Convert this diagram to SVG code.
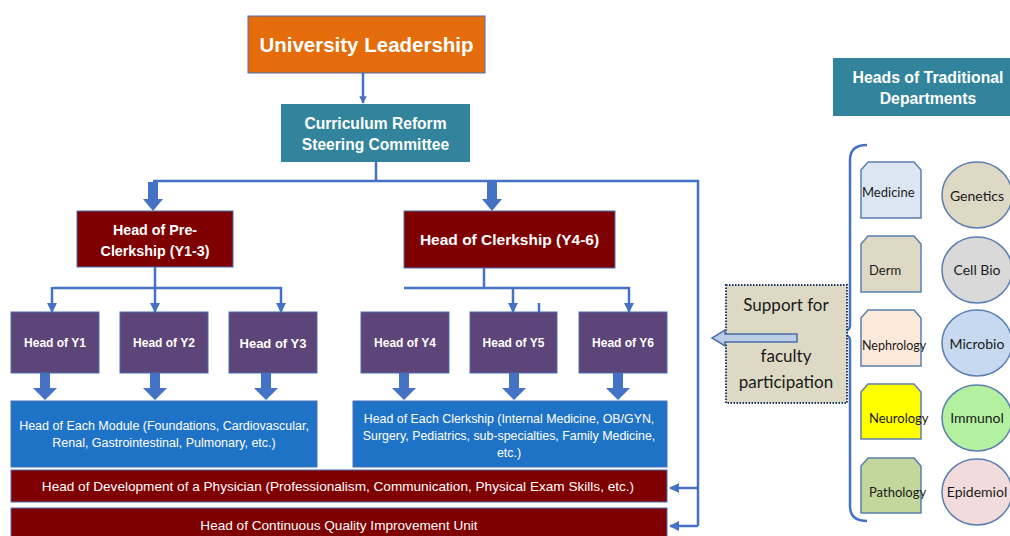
<svg xmlns="http://www.w3.org/2000/svg" width="1010" height="536" viewBox="0 0 1010 536">
<defs>
<style>
.t{font-family:"Liberation Sans",Arial,sans-serif;fill:#fff;text-anchor:middle}
.b{font-weight:bold}
.c{font-family:Lato,"Open Sans",sans-serif;fill:#1a1a1a}
.ln{fill:none;stroke:#4472C4;stroke-width:2.5}
.ba{fill:#4472C4}
.yr{fill:#5D4479;stroke:#4A6FB5;stroke-width:1}
.mr{fill:#7F0000;stroke:#4A6FB5;stroke-width:1}
.bl{fill:#1F73C6;stroke:#4A6FB5;stroke-width:1}
.dp{stroke:#5B7FB0;stroke-width:1.5}
</style>
<marker id="ah" viewBox="0 0 10 10" refX="9" refY="5" markerWidth="4" markerHeight="4" orient="auto-start-reverse" markerUnits="strokeWidth">
<path d="M0,0 L10,5 L0,10 z" fill="#4472C4"/>
</marker>
<marker id="ah2" viewBox="0 0 10 10" refX="9" refY="5" markerWidth="3" markerHeight="3" orient="auto" markerUnits="strokeWidth">
<path d="M0,0 L10,5 L0,10 z" fill="#4472C4"/>
</marker>
</defs>
<rect width="1010" height="536" fill="#fff"/>

<g id="connectors">
<line class="ln" x1="363" y1="73" x2="363" y2="103" marker-end="url(#ah2)"/>
<polyline class="ln" points="376,162 376,181"/>
<polyline class="ln" points="153,181 698,181 698,526"/>
<line class="ln" x1="698" y1="488" x2="670" y2="488" marker-end="url(#ah)"/>
<line class="ln" x1="698" y1="526" x2="670" y2="526" marker-end="url(#ah)"/>
<polygon class="ba" points="148,182 158,182 158,199 163,199 153,211 143,199 148,199"/>
<polygon class="ba" points="487,182 497,182 497,199 502,199 492,211 482,199 487,199"/>
<polyline class="ln" points="155,267 155,288"/>
<polyline class="ln" points="53,288 281,288"/>
<line class="ln" x1="52" y1="287" x2="52" y2="312" marker-end="url(#ah)"/>
<line class="ln" x1="155" y1="287" x2="155" y2="312" marker-end="url(#ah)"/>
<line class="ln" x1="281" y1="287" x2="281" y2="312" marker-end="url(#ah)"/>
<polyline class="ln" points="484,268 484,288"/>
<polyline class="ln" points="404,288 630,288"/>
<line class="ln" x1="513" y1="287" x2="513" y2="312" marker-end="url(#ah)"/>
<line class="ln" x1="629" y1="287" x2="629" y2="312" marker-end="url(#ah)"/>
<line class="ln" x1="539" y1="303" x2="539" y2="323"/>
<polygon class="ba" points="40,373 50,373 50,388 57,388 45,400 33,388 40,388"/>
<polygon class="ba" points="150,373 160,373 160,388 167,388 155,400 143,388 150,388"/>
<polygon class="ba" points="261,373 271,373 271,388 278,388 266,400 254,388 261,388"/>
<polygon class="ba" points="399,373 409,373 409,388 416,388 404,400 392,388 399,388"/>
<polygon class="ba" points="509,373 519,373 519,388 526,388 514,400 502,388 509,388"/>
<polygon class="ba" points="613,373 623,373 623,388 630,388 618,400 606,388 613,388"/>
<path d="M867,145 Q850,145 850,160 L850,326 Q850,333 831,333 Q850,333 850,340 L850,506 Q850,521 867,521" fill="none" stroke="#4472C4" stroke-width="2.5"/>
</g>

<g id="university-leadership">
<rect x="248" y="16" width="237" height="57" fill="#E46C0A" stroke="#4A6FB5" stroke-width="1"/>
<text class="t b" x="366.5" y="52" font-size="20.5">University Leadership</text>
</g>
<g id="steering-committee">
<rect x="281" y="104" width="189" height="58" fill="#31849B"/>
<text class="t b" x="375.5" y="129" font-size="15.6">Curriculum Reform</text>
<text class="t b" x="375.5" y="150" font-size="15.6">Steering Committee</text>
</g>
<g id="pre-clerkship">
<rect class="mr" x="77" y="211" width="156" height="56"/>
<text class="t b" x="155" y="235" font-size="14.3">Head of Pre-</text>
<text class="t b" x="155" y="256" font-size="14.3">Clerkship (Y1-3)</text>
</g>
<g id="clerkship">
<rect class="mr" x="404" y="211" width="211" height="57"/>
<text class="t b" x="509.5" y="245" font-size="15.5">Head of Clerkship (Y4-6)</text>
</g>
<g id="y1"><rect class="yr" x="11" y="312" width="88" height="61"/><text class="t b" x="55" y="347" font-size="12">Head of Y1</text></g>
<g id="y2"><rect class="yr" x="120" y="312" width="88" height="61"/><text class="t b" x="164" y="347" font-size="12">Head of Y2</text></g>
<g id="y3"><rect class="yr" x="229" y="312" width="88" height="61"/><text class="t b" x="273" y="348" font-size="13">Head of Y3</text></g>
<g id="y4"><rect class="yr" x="361" y="312" width="88" height="61"/><text class="t b" x="405" y="347" font-size="12">Head of Y4</text></g>
<g id="y5"><rect class="yr" x="470" y="312" width="87" height="61"/><text class="t b" x="513.5" y="347" font-size="12">Head of Y5</text></g>
<g id="y6"><rect class="yr" x="579" y="312" width="88" height="61"/><text class="t b" x="623" y="347" font-size="12">Head of Y6</text></g>
<g id="modules">
<rect class="bl" x="11" y="401" width="306" height="66"/>
<text class="t" x="164" y="430" font-size="12.5">Head of Each Module (Foundations, Cardiovascular,</text>
<text class="t" x="164" y="447" font-size="12.5">Renal, Gastrointestinal, Pulmonary, etc.)</text>
</g>
<g id="clerkships">
<rect class="bl" x="353" y="401" width="314" height="66"/>
<text class="t" x="509" y="423" font-size="12.4">Head of Each Clerkship (Internal Medicine, OB/GYN,</text>
<text class="t" x="509" y="440" font-size="12.4">Surgery, Pediatrics, sub-specialties, Family Medicine,</text>
<text class="t" x="509" y="457" font-size="12.4">etc.)</text>
</g>
<g id="development">
<rect class="mr" x="11" y="470" width="656" height="32"/>
<text class="t" x="338" y="491" font-size="13.6">Head of Development of a Physician (Professionalism, Communication, Physical Exam Skills, etc.)</text>
</g>
<g id="cqi">
<rect class="mr" x="11" y="508" width="656" height="40"/>
<text class="t" x="339" y="530" font-size="13.6">Head of Continuous Quality Improvement Unit</text>
</g>
<g id="support">
<rect x="726" y="285" width="121" height="118" fill="#DDD9C4" stroke="#1F3864" stroke-width="2" stroke-dasharray="1.5,1.5"/>
<text class="c" x="786" y="311" font-size="17" text-anchor="middle">Support for</text>
<text class="c" x="786" y="362" font-size="17" text-anchor="middle">faculty</text>
<text class="c" x="786" y="388" font-size="17" text-anchor="middle">participation</text>
<polygon points="797,334 725,334 725,330 712,338 725,346 725,342 797,342" fill="#B9CDE5" stroke="#4F6EA8" stroke-width="1.5"/>
</g>
<g id="traditional-departments">
<rect x="833" y="58" width="180" height="58" fill="#31849B"/>
<text class="t b" x="928" y="83" font-size="15.8">Heads of Traditional</text>
<text class="t b" x="928" y="104" font-size="15.8">Departments</text>
</g>
<g id="medicine"><path class="dp" d="M861,218 L861,170 L868,162 L914,162 L921,170 L921,218 Z" fill="#DCE6F2"/><text class="c" x="862" y="197" font-size="13">Medicine</text></g>
<g id="derm"><path class="dp" d="M861,292 L861,244 L868,236 L914,236 L921,244 L921,292 Z" fill="#DDD9C4"/><text class="c" x="869" y="275" font-size="13">Derm</text></g>
<g id="nephrology"><path class="dp" d="M861,366 L861,318 L868,310 L914,310 L921,318 L921,366 Z" fill="#FDE9D9"/><text class="c" x="862" y="350" font-size="12.5">Nephrology</text></g>
<g id="neurology"><path class="dp" d="M861,439 L861,392 L868,384 L914,384 L921,392 L921,439 Z" fill="#FFFF00"/><text class="c" x="869" y="423" font-size="13">Neurology</text></g>
<g id="pathology"><path class="dp" d="M861,513 L861,466 L868,458 L914,458 L921,466 L921,513 Z" fill="#C3D69B"/><text class="c" x="869" y="497" font-size="13">Pathology</text></g>
<g id="genetics"><ellipse class="dp" cx="977" cy="195" rx="35" ry="33" fill="#DDD9C4"/><text class="c" x="977" y="201" font-size="14" text-anchor="middle">Genetics</text></g>
<g id="cellbio"><ellipse class="dp" cx="977" cy="270" rx="35" ry="33" fill="#D9D9D9"/><text class="c" x="977" y="275" font-size="14" text-anchor="middle">Cell Bio</text></g>
<g id="microbio"><ellipse class="dp" cx="977" cy="343" rx="35" ry="33" fill="#C6D9F1"/><text class="c" x="977" y="349" font-size="14" text-anchor="middle">Microbio</text></g>
<g id="immunol"><ellipse class="dp" cx="977" cy="418" rx="35" ry="33" fill="#B3F0A0"/><text class="c" x="977" y="423" font-size="14" text-anchor="middle">Immunol</text></g>
<g id="epidemiol"><ellipse class="dp" cx="977" cy="492" rx="35" ry="33" fill="#F2DCDB"/><text class="c" x="977" y="497" font-size="14" text-anchor="middle">Epidemiol</text></g>
</svg>
